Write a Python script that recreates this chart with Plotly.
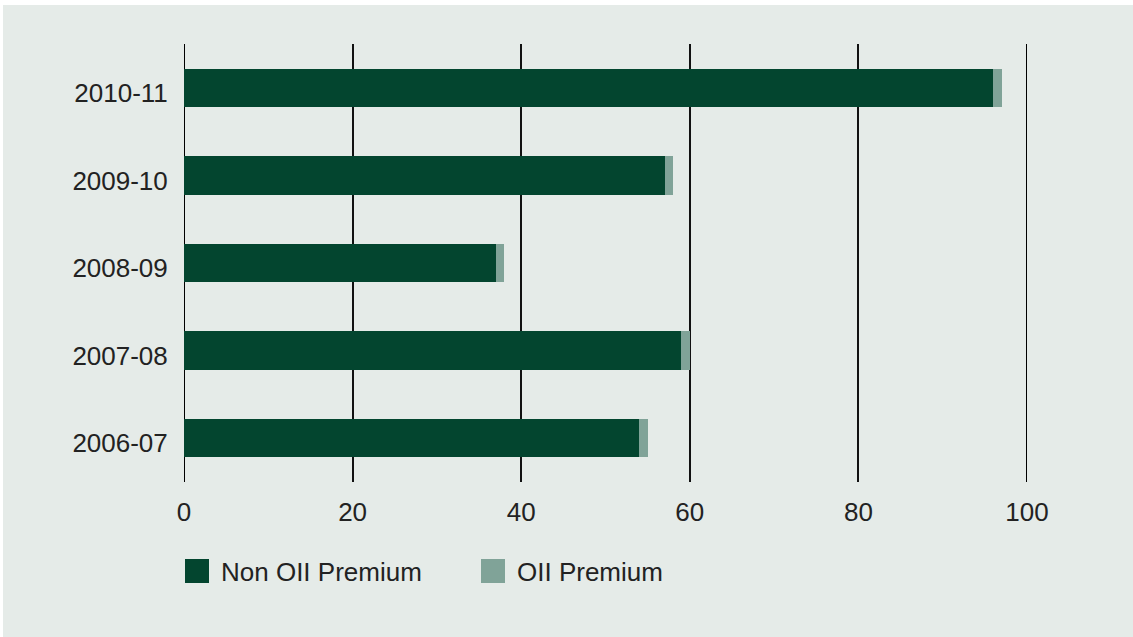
import plotly.graph_objects as go

# Premium income by year (stacked horizontal bars)
years = ["2006-07", "2007-08", "2008-09", "2009-10", "2010-11"]
non_oii = [54, 59, 37, 57, 96]
oii = [1, 1, 1, 1, 1]

x_ticks = [0, 20, 40, 60, 80, 100]
legend_names = ["Non OII Premium", "OII Premium"]

DARK = "#03452F"
LIGHT = "#80A398"
PANEL = "#E5EBE8"
FONT = "Liberation Sans"
TEXT = "#222222"
GRID = "#111111"
FS = 26

W, H = 1133, 637
L, R, T, B = 184, 106, 44, 155
pw, ph = W - L - R, H - T - B

fig = go.Figure()
fig.add_trace(go.Bar(y=years, x=non_oii, orientation="h", marker_color=DARK,
                     marker_line_width=0, width=0.44, showlegend=False,
                     name=legend_names[0]))
fig.add_trace(go.Bar(y=years, x=oii, orientation="h", marker_color=LIGHT,
                     marker_line_width=0, width=0.44, showlegend=False,
                     name=legend_names[1]))


def px_x(p):
    return (p - L) / pw


def px_y(p):
    return (H - B - p) / ph


# Light panel behind the whole chart
fig.add_shape(type="rect", xref="paper", yref="paper", layer="below",
              x0=px_x(3), x1=px_x(W + 5), y0=px_y(5), y1=px_y(H + 5),
              fillcolor=PANEL, line_width=0)

# Gridlines at the two ends of the value range (plotly skips edge gridlines)
for v in (x_ticks[0], x_ticks[-1]):
    fig.add_shape(type="line", xref="x", yref="paper", layer="below",
                  x0=v, x1=v, y0=0, y1=1, line=dict(color="#000000", width=2))

# Legend: square swatches with labels beneath the plot
for (sx, tx), name, col in zip([(185, 219), (481, 515)], legend_names, [DARK, LIGHT]):
    fig.add_shape(type="rect", xref="paper", yref="paper",
                  x0=px_x(sx), x1=px_x(sx + 24), y0=px_y(583), y1=px_y(559),
                  fillcolor=col, line_width=0)
    fig.add_annotation(xref="paper", yref="paper", x=px_x(tx), y=px_y(572),
                       xanchor="left", yanchor="middle", showarrow=False,
                       text=name, font=dict(size=FS, color=TEXT, family=FONT))

fig.update_layout(
    width=W, height=H,
    margin=dict(l=L, r=R, t=T, b=B),
    paper_bgcolor="white",
    plot_bgcolor="rgba(0,0,0,0)",
    barmode="stack",
    showlegend=False,
    font=dict(family=FONT, size=FS, color=TEXT),
    xaxis=dict(range=[0, 100], tickvals=x_ticks, showgrid=True,
               gridcolor=GRID, gridwidth=1.5, zeroline=False,
               showline=False, ticks="outside", ticklen=7,
               tickcolor="rgba(0,0,0,0)", tickfont=dict(size=FS, color=TEXT)),
    yaxis=dict(type="category", categoryorder="array", categoryarray=years,
               range=[-0.5, 4.5], showgrid=False, zeroline=False,
               showline=False, ticks="outside", ticklen=10,
               ticklabelshift=5,
               tickcolor="rgba(0,0,0,0)", tickfont=dict(size=FS, color=TEXT)),
)

fig.write_html("out.html")
